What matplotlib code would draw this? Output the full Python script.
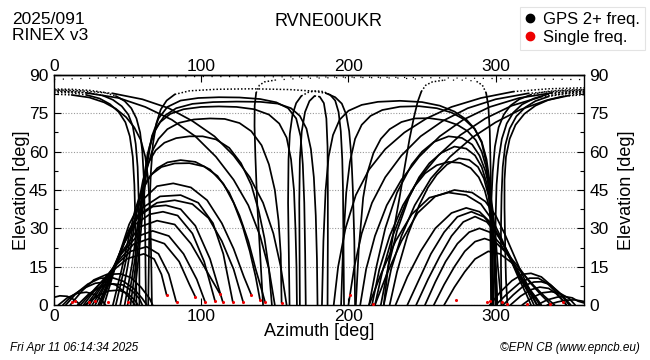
import matplotlib
matplotlib.use("Agg")
import matplotlib.pyplot as plt
from matplotlib.lines import Line2D

plt.rcParams['font.family'] = ['Liberation Sans', 'DejaVu Sans']

# ---------------- text ----------------
station = "RVNE00UKR"
date_label = "2025/091"
rinex_label = "RINEX v3"
footer_left = "Fri Apr 11 06:14:34 2025"
footer_right = "\u00a9EPN CB (www.epncb.eu)"
legend_labels = ["GPS 2+ freq.", "Single freq."]
x_ticks = [0, 100, 200, 300]
y_ticks = [0, 15, 30, 45, 60, 75, 90]

# ---------------- tracks: (azimuth, elevation) ----------------
east_low_arcs = [
    [(0, 3.0), (4, 3.6), (9, 3.4), (14, 2.0), (18, 0)],
    [(3, 0), (9, 2.8), (16, 4.6), (22, 5), (28, 4), (33, 1.5), (35, 0)],
    [(6, 0), (12, 3.5), (20, 6.5), (28, 8.5), (35, 9), (42, 7.8), (48, 5), (53, 1.5), (55, 0)],
    [(8, 0), (15, 4.5), (23, 8.2), (31, 10.4), (39, 10.8), (47, 9.3), (54, 6.5), (60, 2.5), (63, 0)],
    [(11, 0), (19, 5.5), (27, 9.8), (36, 12), (45, 12.2), (52, 10.8), (59, 7), (65, 2.5), (67, 0)],
    [(16, 0), (24, 4.5), (32, 7.2), (40, 8.3), (47, 7.8), (53, 5.5), (58, 2.5), (60, 0)],
    [(21, 0), (29, 3.5), (37, 5.5), (44, 5.8), (50, 4.5), (55, 1.8), (57, 0)],
]

east_mid_arcs = [
    [(18, 0), (28, 6.5), (39, 13), (50, 18.2), (61, 20), (68, 18), (73, 12), (76.5, 3.9)],
    [(20, 0), (30, 7.5), (41, 15), (52, 21), (63, 22.8), (71, 20), (78, 12), (83, 1.3)],
    [(22, 0), (33, 8.5), (44, 17.5), (54, 23.8), (65, 26), (75, 24), (85, 17), (92, 8), (96, 3.2)],
    [(24, 0), (35, 9.5), (45, 19.5), (56, 26.7), (67, 29), (78, 27), (88, 20), (97, 10), (102.6, 1.3)],
    [(26, 0), (37, 10.5), (47, 21.5), (58, 30.5), (70, 33), (82, 31.5), (93, 24), (104, 13), (112.8, 4.3)],
    [(28, 0), (38, 11.5), (47, 23.5), (55, 31.5), (65, 35.5), (74, 36.5), (84, 35), (94, 28), (102, 17), (109.4, 1.5)],
    [(30, 0), (40, 13.5), (49, 26.5), (57, 34.5), (67, 38.5), (76, 39), (86, 37.5), (96, 31), (106, 18), (114.6, 1.3)],
    [(31, 0), (41, 14.5), (50, 27.5), (58, 35.5), (70, 40), (82, 41), (94, 39.5), (105, 34), (114, 25), (122, 14), (128.4, 1.3)],
    [(32, 0), (42, 15.5), (51, 29.5), (60, 38), (72, 42.5), (86, 43), (98, 40), (108, 32), (115, 20), (121.4, 1.3)],
    [(34, 0), (43, 17.5), (51, 31.5), (59, 40.5), (70, 46.5), (81, 47.6), (93, 46), (104, 41), (114, 32), (122, 22),
     (129, 11), (134, 4)],
]

east_tall_arcs = [
    [(40, 0), (46, 14), (51, 27), (55, 37), (59, 44), (64, 49.5), (70, 53.5), (77, 55.8), (86, 56.7), (96, 56),
     (106, 53), (115, 47.5), (122, 40), (128, 31), (133, 21), (137, 11), (140, 1.8)],
    [(42, 0), (48, 15), (53, 29), (57, 39), (61, 46), (66, 51), (73, 54), (82, 55.4), (92, 55.5), (102, 54.2),
     (111, 50.5), (119, 44), (126, 35), (132, 25), (137, 14), (141, 6), (143.3, 1.3)],
    [(45, 0), (50, 15), (54, 29), (57.5, 40), (60.5, 49), (64, 55.5), (69, 60.5), (75, 63.5), (83, 65.3), (92, 66),
     (101, 66), (110, 64.8), (119, 61.5), (127, 55.5), (134, 47), (139, 37), (143, 26), (146, 14), (148, 0)],
    [(48, 0), (53, 16), (57, 32), (60, 44), (63, 53), (66.5, 60), (71, 65), (77, 68.8), (85, 71.3), (95, 72.6),
     (106, 73), (116, 72.8), (126, 71.2), (134, 68), (141, 62.5), (146, 55), (150, 45), (152.5, 33), (154, 20),
     (154.6, 0.8)],
    [(50, 0), (55, 18), (58.5, 36), (61, 49), (63.5, 59), (67, 66.5), (72, 71.5), (79, 74.8), (88, 76.6), (100, 77.5),
     (112, 77.7), (124, 77.5), (136, 76.6), (146, 74.5), (153, 71), (158, 65.5), (161, 57), (163, 45), (164, 30),
     (164.7, 15), (165, 0)],
    [(52, 0), (56.5, 20), (59.5, 38), (62, 52), (65, 62), (69, 69), (75, 74), (83, 77), (94, 78.7), (108, 79.4),
     (124, 79.6), (140, 79.5), (152, 78.8), (161, 77), (167, 74), (171.5, 69), (174.5, 61), (176.5, 50),
     (177.8, 35), (178.6, 18), (179, 0)],
    [(54, 0), (58, 22), (61, 42), (63.5, 56), (66.5, 66), (71, 73), (77, 77.5), (86, 80), (98, 81), (112, 81.3),
     (126, 81.2), (140, 80.6), (151, 79.3), (159, 77), (164.5, 73), (167.5, 66), (169, 55), (170, 40),
     (170.6, 20), (171, 0)],
]

east_north_tracks = [
    [(0, 84.5), (12, 84.4), (24, 84), (34, 83.2), (42, 81.8), (48, 79.8), (52.5, 77), (56, 73), (58.5, 67.5),
     (60, 60), (61, 50), (61.5, 38), (62, 25), (62.2, 12), (62.5, 0)],
    [(0, 83.8), (12, 83.6), (24, 83), (33, 82), (40, 80.3), (46, 77.8), (50.5, 74.5), (53.5, 70), (55.5, 63),
     (56.8, 54), (57.5, 42), (57.8, 28), (58, 14), (58, 0)],
    [(0, 83.2), (12, 83), (22, 82.2), (31, 80.8), (38, 78.6), (44, 75.5), (48.5, 71.5), (51.5, 66), (53.5, 58),
     (54.6, 47), (55.2, 34), (55.6, 20), (56, 0)],
    [(0, 82.5), (12, 82.2), (24, 81.2), (34, 79.3), (42, 76.8), (49, 73.5), (54.5, 69.5), (59, 64.5), (62, 58),
     (64, 49), (65.2, 37), (65.8, 24), (66.2, 12), (66.5, 0)],
    [(158, 0), (154, 15), (149, 28), (142, 40), (133, 50), (122, 58.5), (109, 66), (94, 72), (78, 77), (60, 80.5),
     (40, 82.8), (18, 83.8), (0, 84.2)],
    [(150, 0), (146, 14), (140, 27), (132, 39), (122, 49), (110, 58), (96, 66), (80, 72.5), (62, 77.5), (44, 81),
     (22, 83), (0, 83.8)],
]

zenith_tracks = [
    [(64, 0), (64.5, 20), (65, 40), (65.8, 52), (67.2, 63), (69.5, 71), (72.5, 76.5), (76.5, 80), (82, 82.4),
     (92, 83.8), (110, 84.4), (135, 84.6), (160, 84.3), (176, 83.7), (185, 82.8), (191, 81.3), (195.5, 78.8),
     (198.5, 74.5), (200.5, 68), (202, 58), (203, 45), (204, 25), (204.5, 0)],
    [(142, 0), (140, 20), (138, 40), (136.8, 58), (136.2, 70), (136.3, 78), (137.3, 83), (139.5, 86), (143, 87.3),
     (150, 88), (165, 88.6), (185, 88.9), (210, 89), (235, 88.8), (250, 88.3)],
    [(160, 0), (159.5, 20), (159, 40), (159.3, 57), (160.2, 67), (162, 74.5), (164.5, 79), (168, 81.8), (173, 83.3),
     (178, 83.8), (183, 83.5), (187.5, 82.3), (191, 80), (193.3, 75.5), (194.8, 68), (195.8, 57), (196.3, 45),
     (196.6, 25), (197, 0)],
    [(167, 0), (166.8, 20), (166.6, 40), (167, 57), (168.3, 68), (170.5, 75.5), (173.5, 79.8), (177, 81.8),
     (180.5, 81.5), (183.3, 79), (185, 73), (185.8, 62), (186, 45), (186, 25), (185.8, 0)],
    [(224, 0), (227, 15), (231, 30), (235, 43), (238.5, 55), (241.5, 65), (244.5, 73.5), (247, 79.5), (249.5, 83.5),
     (252.5, 86), (257, 87.3), (265, 88), (280, 88), (287, 87.5), (291, 86), (293.5, 83), (295, 78), (296, 68),
     (296.5, 55), (297, 40), (297.5, 20), (298, 0)],
    [(0, 88.3), (30, 88.8), (60, 89.2), (100, 89.4), (150, 89.3), (200, 89.2), (250, 89), (300, 88.6), (360, 88.2)],
]

west_north_tracks = [
    [(360, 84.3), (346, 84.1), (334, 83.5), (324, 82.3), (316, 80.5), (310, 78), (305.5, 74.5), (302, 69.5),
     (299.5, 62), (298, 52), (297, 40), (296.6, 27), (296.6, 14), (297, 0)],
    [(360, 83.6), (346, 83.3), (335, 82.4), (326, 80.8), (318, 78.5), (312, 75.3), (307.5, 71), (304.2, 65),
     (302, 57), (300.6, 47), (300, 35), (299.7, 20), (300, 0)],
    [(360, 83), (346, 82.6), (336, 81.6), (327, 79.8), (320, 77.3), (314, 73.8), (309.5, 69), (306.5, 62.5),
     (304.8, 54), (304, 43), (303.6, 30), (303.6, 15), (304, 0)],
    [(360, 82.3), (346, 81.7), (336, 80.3), (327, 78), (319.5, 74.8), (313.5, 70.5), (309.5, 65), (307, 58),
     (306, 49), (306, 38), (306.5, 22), (307, 10), (308, 0)],
    [(190, 0), (193, 15), (198, 30), (205, 43), (214, 53), (225, 61), (238, 67.5), (253, 73), (270, 77.5),
     (290, 81), (312, 83.5), (336, 84.6), (360, 85)],
    [(200, 0), (204, 15), (209, 28), (216, 40), (225, 50), (236, 58.5), (249, 66), (264, 72), (281, 77), (300, 80.5),
     (322, 82.8), (345, 83.8), (360, 84.2)],
    [(208, 0), (212, 14), (218, 27), (226, 39), (236, 49), (248, 58), (262, 66), (278, 72.5), (296, 77.5), (316, 81),
     (338, 83), (360, 83.8)],
    [(216, 0), (221, 14), (228, 27), (237, 39), (248, 49.5), (261, 58.5), (276, 66.5), (293, 73), (311, 78),
     (331, 81.5), (350, 83), (360, 83.4)],
    [(224, 0), (229, 14), (236, 27), (245, 39), (256, 49.5), (269, 58), (284, 65.5), (300, 71.5), (317, 76.5),
     (334, 80), (350, 82), (360, 82.8)],
]

west_tall_arcs = [
    [(214, 0), (219, 15), (225, 30), (233, 44), (243, 55), (250, 60), (258, 63.8), (268, 66), (277, 65.4),
     (284, 62.8), (289, 58.5), (293, 52.5), (296, 45), (298.3, 36), (300, 26), (301.5, 15), (303, 6), (304, 0)],
    [(222, 0), (227, 15), (233, 29), (241, 42), (248, 50), (255, 55.5), (263, 59.5), (272, 62), (280, 61.2),
     (286, 58.5), (290.5, 54), (294, 47.5), (296.5, 39.5), (298.2, 30), (299.5, 18), (300.3, 8), (301, 0)],
    [(228, 0), (233, 13), (240, 27), (248, 39), (254, 46), (260, 51), (267, 55), (275, 57.4), (282, 56.8),
     (288, 54), (292, 49.5), (295, 43), (297.5, 35), (299.2, 25), (300.3, 13), (301, 0)],
    [(218, 0), (223, 13), (230, 27), (239, 40), (245, 46.5), (252, 51.5), (260, 54.7), (268, 56), (276, 55.6),
     (283, 53.6), (288.5, 50), (292.5, 45), (295.5, 38.5), (297.8, 30), (299.5, 19), (300.5, 9), (301, 0)],
    [(205, 0), (207, 22), (210, 42), (213, 52), (217, 59.5), (222, 65), (228, 68.8), (236, 71.6), (245, 73),
     (255, 73.1), (265, 72.3), (274, 70.5), (281, 68), (286.5, 64.5), (290.5, 60), (293.5, 54), (295.8, 46.5),
     (297.4, 37), (298.5, 25), (299.3, 12), (300, 0)],
    [(195, 0), (196.5, 25), (198.5, 44), (201, 56), (204.5, 65), (209, 70.5), (215, 74), (223, 76.3), (235, 77.6),
     (248, 77.8), (260, 77), (270, 75.3), (279, 72.5), (285.5, 69), (290.5, 64), (293.8, 57), (296, 48),
     (297.2, 37), (298, 22), (298.5, 0)],
    [(182, 0), (183, 25), (184.5, 45), (186.5, 58), (189.5, 66.5), (194, 72.5), (200, 76), (209, 78.3), (220, 79.5),
     (235, 79.9), (250, 79.4), (262, 78), (272, 75.7), (280, 72.6), (286, 68.8), (290.5, 63.5), (293.5, 56),
     (295.3, 46), (296.3, 33), (296.8, 18), (297, 0)],
]

west_mid_arcs = [
    [(218, 0), (226, 12), (236, 25), (247, 36), (259, 42.5), (272, 45), (284, 44), (293, 40.5), (300, 35),
     (306, 28), (312, 20), (318, 12), (324, 5), (328, 0)],
    [(214, 0), (222, 12), (232, 25), (243, 35.5), (255, 42), (268, 44), (280, 43), (290, 39.5), (298, 33),
     (304, 26), (310, 18), (316, 10), (321, 4), (324, 0)],
    [(232, 0), (240, 11), (249, 21), (259, 30), (270, 36), (280, 38), (289, 36.5), (297, 32), (304, 25), (310, 18),
     (316, 11), (322, 5), (326, 0)],
    [(240, 0), (248, 10), (256, 20), (265, 28.5), (274, 34.5), (283.5, 36.5), (292, 34.5), (299, 30), (306, 23),
     (312, 16), (318, 9.5), (324, 4), (328, 0)],
    [(246, 0), (254, 10), (262, 19), (270, 27), (278, 32.5), (286, 34.6), (294, 32.5), (301, 27.5), (308, 21),
     (314, 14.5), (320, 8.5), (326, 3.5), (330, 0)],
    [(252, 0), (259, 9), (266, 17), (274, 24), (282, 28.5), (289, 30), (296, 28.5), (303, 24), (310, 18), (316, 12),
     (322, 7), (328, 2.5), (331, 0)],
    [(258, 0), (265, 8), (272, 15), (279, 21), (286, 24.8), (292.5, 26), (300, 24.5), (308, 20), (316, 14.5),
     (323, 9), (330, 4.5), (336, 1), (337, 0)],
    [(265, 0), (272, 7), (279, 13), (286, 18), (295, 21), (303, 20), (311, 16.5), (319, 12), (326, 7.5), (333, 3.5),
     (339, 0.5), (340, 0)],
]

west_low_arcs = [
    [(296, 0), (303, 5), (311, 9.5), (318, 12), (324, 12.4), (331, 11), (338, 7.5), (345, 3.5), (350, 0)],
    [(300, 0), (308, 4.5), (316, 8.5), (323, 10.5), (329, 10.5), (335, 8.5), (341, 5), (346, 1.5), (348, 0)],
    [(305, 0), (312, 4), (319, 7.5), (326, 9), (331, 9.1), (337, 8), (343, 5), (348, 2), (351, 0)],
    [(310, 0), (317, 3.5), (324, 6), (330, 7), (336, 6.5), (341, 4.5), (346, 1.5), (348, 0)],
    [(318, 0), (325, 3), (332, 4.8), (338, 5.2), (344, 4.5), (350, 2.5), (354, 0)],
    [(328, 0), (335, 2), (342, 3.1), (347, 3.3), (352, 2.8), (356, 1.5), (360, 0.8)],
    [(335, 0), (342, 1.2), (348, 1.9), (353.6, 2.0), (358, 1.6), (360, 1.4)],
]

single_freq_az = [12, 14, 24, 28, 37, 50, 76.5, 83.3, 95.8, 102.6, 109.4, 112.8, 114.6, 121.4,
                  128.4, 134, 140, 143.3, 154.6, 201, 217, 273, 294, 296, 304, 307.5, 321, 337, 346]
single_freq_el = [1, 1.5, 1, 1.5, 1, 1, 3.9, 1.3, 3.2, 1.3, 1.5, 4.3, 1.3, 1.3,
                  1.3, 4, 1.8, 1.3, 0.8, 3.9, 0.5, 2, 1, 1.5, 1, 0.5, 0.5, 0.5, 1]

all_groups = [east_low_arcs, east_mid_arcs, east_tall_arcs, east_north_tracks,
              zenith_tracks, west_north_tracks, west_tall_arcs, west_mid_arcs, west_low_arcs]

# ---------------- figure ----------------
fig = plt.figure(figsize=(6.5, 3.6), dpi=100)
ax = fig.add_axes([54 / 650, 1 - 305 / 360, 530 / 650, 230 / 360])


def draw_track(pts):
    az = [p[0] for p in pts]
    el = [p[1] for p in pts]

    def kind(i):
        m = min(el[i], el[i + 1])
        if m >= 87.5:
            return 'sparse'
        if m >= 81.5:
            return 'dot'
        return 'solid'
    i = 0
    n = len(pts)
    while i < n - 1:
        k = kind(i)
        j = i
        while j < n - 1 and kind(j) == k:
            j += 1
        xs, ys = az[i:j + 1], el[i:j + 1]
        if k == 'solid':
            ax.plot(xs, ys, color='black', lw=1.25, solid_capstyle='round',
                    solid_joinstyle='round', zorder=3)
        elif k == 'dot':
            ax.plot(xs, ys, color='black', lw=1.1, linestyle=(0, (1, 1.3)), zorder=3)
        else:
            ax.plot(xs, ys, color='black', lw=0.9, linestyle=(0, (1, 6)), zorder=3)
        i = j


for group in all_groups:
    for trk in group:
        draw_track(trk)

ax.scatter(single_freq_az, single_freq_el, s=5, color='#ee0000', zorder=4, linewidths=0)

ax.set_xlim(0, 360)
ax.set_ylim(0, 90)
ax.set_xticks(x_ticks)
ax.set_yticks(y_ticks)
ax.set_yticks([7.5 + 15 * k for k in range(6)], minor=True)
ax.yaxis.grid(True, which='major', linestyle=(0, (1, 1.5)), color='#9a9a9a', lw=0.8, zorder=0)
ax.tick_params(which='both', direction='in', top=False, right=True, labeltop=False,
               labelright=True, labelsize=12.5, width=0.8)
ax.tick_params(which='major', length=5)
ax.tick_params(which='minor', length=3)
ax.tick_params(axis='x', which='major', pad=3)
ax.tick_params(axis='y', which='major', pad=4)
for s in ax.spines.values():
    s.set_linewidth(1.0)

secx = ax.secondary_xaxis('top')
secx.set_xticks(x_ticks)
secx.tick_params(direction='in', length=5, width=0.8, pad=0.5, labelsize=12.5)
secx.spines['top'].set_linewidth(1.0)

ax.text(-0.062, 0.5, 'Elevation [deg]', rotation=90, transform=ax.transAxes,
        ha='center', va='center', fontsize=13)
ax.text(1.081, 0.5, 'Elevation [deg]', rotation=90, transform=ax.transAxes,
        ha='center', va='center', fontsize=13)

fig.text(319 / 650, 1 - 332 / 360, 'Azimuth [deg]', ha='center', va='center', fontsize=13)
fig.text(328 / 650, 1 - 22 / 360, station, ha='center', va='center', fontsize=13)
fig.text(12 / 650, 1 - 20 / 360, date_label, ha='left', va='center', fontsize=12.5)
fig.text(12 / 650, 1 - 36 / 360, rinex_label, ha='left', va='center', fontsize=12.5)
fig.text(10 / 650, 1 - 348 / 360, footer_left, ha='left', va='center', fontsize=8.5, style='italic')
fig.text(640 / 650, 1 - 348 / 360, footer_right, ha='right', va='center', fontsize=8.5, style='italic')

handles = [Line2D([], [], marker='o', color='none', markerfacecolor='black', markeredgecolor='black', markersize=6),
           Line2D([], [], marker='o', color='none', markerfacecolor='#ee0000', markeredgecolor='#ee0000', markersize=6)]
leg = fig.legend(handles, legend_labels, loc='upper right', bbox_to_anchor=(0.998, 0.99),
                 fontsize=12, frameon=True, fancybox=False, handlelength=0.6,
                 handletextpad=0.5, borderpad=0.3, labelspacing=0.2, borderaxespad=0.2)
leg.get_frame().set_edgecolor('#dddddd')
leg.get_frame().set_linewidth(0.8)

fig.savefig('out.png', dpi=100)
